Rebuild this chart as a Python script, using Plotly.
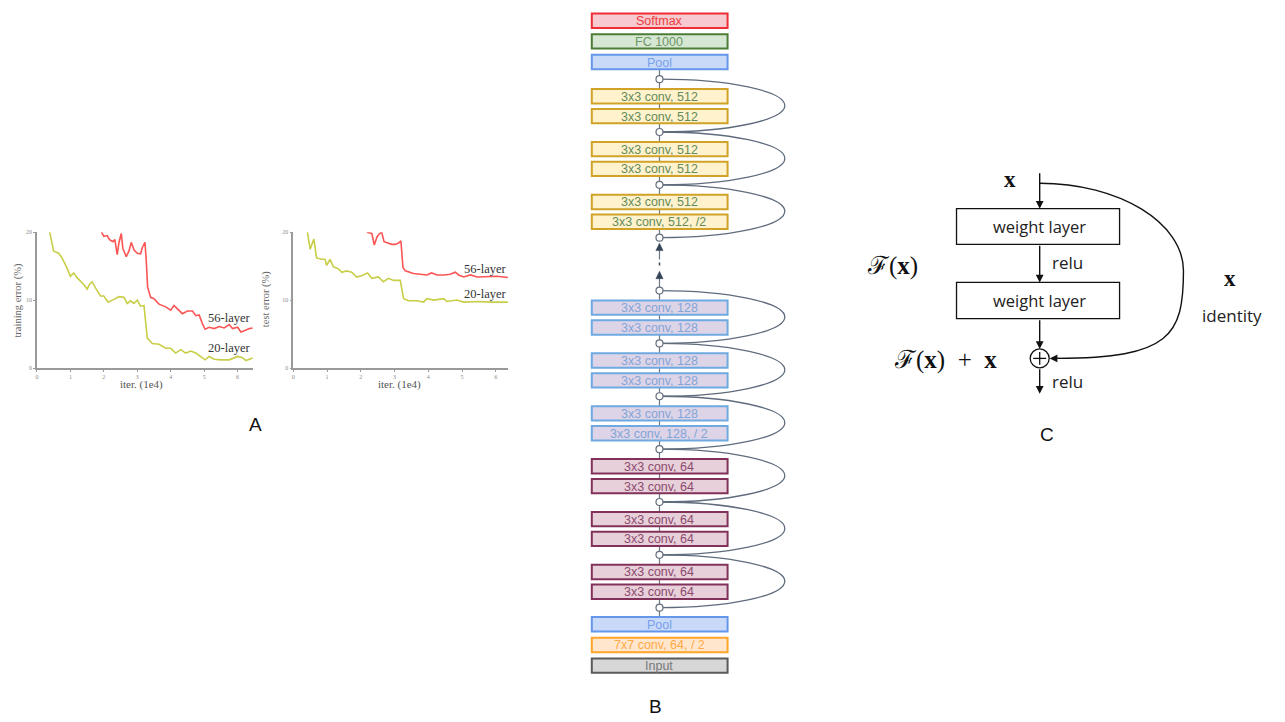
import plotly.graph_objects as go

W, H = 1285, 722
OFF = 8  # page body margin compensation (pixels)

# ---------------- Panel A data ----------------
train56_x = [1.93, 2.0, 2.1, 2.17, 2.27, 2.33, 2.4, 2.45, 2.52, 2.57, 2.67, 2.75, 2.82, 2.9, 3.0, 3.1, 3.15, 3.23, 3.27, 3.31,
             3.4, 3.5, 3.65, 3.85, 4.0, 4.1, 4.2, 4.35, 4.5, 4.65, 4.75, 4.85, 4.95, 5.03, 5.15, 5.3, 5.45, 5.6, 5.75, 5.85,
             6.0, 6.1, 6.2, 6.35, 6.47]
train56_y = [20.0, 19.4, 19.5, 18.9, 18.6, 18.9, 16.7, 18.4, 19.8, 17.6, 16.4, 17.2, 18.5, 17.4, 16.9, 16.8, 17.7, 18.5, 15.7, 11.9,
             10.4, 10.2, 9.4, 9.0, 8.5, 9.2, 8.7, 8.0, 8.4, 8.4, 7.7, 7.8, 6.5, 5.7, 6.0, 5.8, 6.1, 5.9, 6.4, 5.8,
             6.0, 5.3, 5.5, 5.8, 5.9]
train20_x = [0.38, 0.45, 0.5, 0.65, 0.75, 0.9, 1.0, 1.1, 1.2, 1.4, 1.5, 1.57, 1.65, 1.75, 1.9, 2.0, 2.13, 2.3, 2.45, 2.6,
             2.7, 2.8, 2.9, 3.0, 3.1, 3.2, 3.25, 3.3, 3.45, 3.65, 3.85, 4.0, 4.15, 4.3, 4.45, 4.6, 4.75, 4.9, 5.03, 5.15,
             5.3, 5.5, 5.75, 6.0, 6.15, 6.25, 6.47]
train20_y = [20.0, 18.1, 17.2, 16.9, 16.2, 14.7, 13.5, 14.0, 13.3, 12.3, 11.6, 12.3, 12.7, 11.8, 10.6, 10.6, 9.7, 10.1, 10.5, 10.4,
             9.5, 9.9, 9.5, 10.0, 9.1, 9.2, 7.0, 4.4, 3.6, 3.5, 2.9, 2.9, 2.2, 2.7, 2.2, 2.5, 2.2, 1.7, 1.2, 1.7,
             1.3, 1.2, 1.2, 1.7, 1.5, 1.1, 1.5]
test56_x = [2.18, 2.33, 2.4, 2.48, 2.56, 2.62, 2.69, 2.82, 2.92, 3.02, 3.12, 3.19, 3.25, 3.32, 3.56, 3.76, 3.96, 4.1, 4.26, 4.46,
            4.65, 4.8, 4.9, 5.05, 5.25, 5.45, 5.74, 6.04, 6.39]
test56_y = [20.0, 19.8, 18.1, 19.3, 19.8, 20.0, 18.6, 18.4, 18.2, 18.2, 18.4, 18.7, 14.8, 14.3, 13.9, 13.8, 13.7, 14.0, 13.7, 13.7,
            13.8, 14.1, 13.7, 13.4, 13.7, 13.4, 13.4, 13.5, 13.3]
test20_x = [0.42, 0.5, 0.61, 0.69, 0.84, 0.94, 0.99, 1.09, 1.19, 1.34, 1.44, 1.58, 1.73, 1.88, 2.08, 2.2, 2.33, 2.52, 2.67, 2.82,
            2.97, 3.17, 3.27, 3.42, 3.66, 3.86, 3.96, 4.16, 4.46, 4.55, 4.85, 5.05, 5.45, 5.84, 6.39]
test20_y = [20.0, 17.5, 19.0, 16.2, 16.0, 16.0, 15.1, 16.0, 14.9, 14.6, 14.1, 14.3, 14.1, 13.4, 13.7, 14.0, 13.2, 13.4, 12.7, 13.2,
            12.9, 12.9, 10.2, 9.9, 9.9, 9.7, 10.2, 10.0, 10.2, 9.8, 10.0, 9.7, 9.8, 9.7, 9.7]
iter_ticks = [0, 1, 2, 3, 4, 5, 6]
err_ticks = [0, 10, 20]
series_names = ["56-layer", "20-layer"]

# ---------------- Panel B data ----------------
top_layers = ["Softmax", "FC 1000", "Pool"]
top_styles = ["softmax", "fc", "pool"]
stage512 = ["3x3 conv, 512", "3x3 conv, 512", "3x3 conv, 512", "3x3 conv, 512", "3x3 conv, 512", "3x3 conv, 512, /2"]
stage128 = ["3x3 conv, 128", "3x3 conv, 128", "3x3 conv, 128", "3x3 conv, 128", "3x3 conv, 128", "3x3 conv, 128, / 2"]
stage64 = ["3x3 conv, 64", "3x3 conv, 64", "3x3 conv, 64", "3x3 conv, 64", "3x3 conv, 64", "3x3 conv, 64"]
bottom_layers = ["Pool", "7x7 conv, 64, / 2", "Input"]
bottom_styles = ["pool", "conv7", "input"]

# ---------------- Panel C data ----------------
block_layers = ["weight layer", "weight layer"]
relu_labels = ["relu", "relu"]

STYLES = {
    "softmax": dict(fill="rgb(246,202,206)", edge="rgb(238,45,55)", text="rgb(238,60,65)"),
    "fc": dict(fill="rgb(214,232,212)", edge="rgb(75,125,55)", text="rgb(110,150,100)"),
    "pool": dict(fill="rgb(200,218,248)", edge="rgb(100,150,235)", text="rgb(120,160,235)"),
    "c512": dict(fill="rgb(255,242,204)", edge="rgb(208,163,40)", text="rgb(100,140,90)"),
    "c128": dict(fill="rgb(222,212,232)", edge="rgb(110,170,225)", text="rgb(130,165,215)"),
    "c64": dict(fill="rgb(232,208,218)", edge="rgb(130,50,90)", text="rgb(140,75,110)"),
    "conv7": dict(fill="rgb(255,230,205)", edge="rgb(255,165,40)", text="rgb(255,170,70)"),
    "input": dict(fill="rgb(215,215,215)", edge="rgb(90,90,90)", text="rgb(120,120,120)"),
}

fig = go.Figure()
shapes = []
annotations = []

RED = "rgb(252,85,85)"
YEL = "rgb(200,206,72)"
SERIF = "Liberation Serif, DejaVu Serif, serif"
SANS = "Liberation Sans, Arial, sans-serif"
CAL = "Open Sans, Liberation Sans, sans-serif"

# ---------------- Panel A ----------------
fig.add_trace(go.Scatter(x=train56_x, y=train56_y, mode="lines", line=dict(color=RED, width=1.6), xaxis="x", yaxis="y", showlegend=False))
fig.add_trace(go.Scatter(x=train20_x, y=train20_y, mode="lines", line=dict(color=YEL, width=1.6), xaxis="x", yaxis="y", showlegend=False))
fig.add_trace(go.Scatter(x=test56_x, y=test56_y, mode="lines", line=dict(color=RED, width=1.6), xaxis="x2", yaxis="y2", showlegend=False))
fig.add_trace(go.Scatter(x=test20_x, y=test20_y, mode="lines", line=dict(color=YEL, width=1.6), xaxis="x2", yaxis="y2", showlegend=False))

def px_x(p):
    return (p - OFF) / W

def px_y(p):
    return 1 - (p - OFF) / H

axis_common = dict(showgrid=False, zeroline=False, showline=True, linecolor="#9a9a9a", linewidth=1.5,
                   ticks="outside", ticklen=2, tickcolor="#9a9a9a",
                   tickfont=dict(family=SERIF, size=6, color="#8a8a8a"), fixedrange=True)

layout_axes = dict(
    xaxis=dict(domain=[px_x(35), px_x(251)], range=[0, 6.45], tickvals=iter_ticks, anchor="y", **axis_common),
    yaxis=dict(domain=[px_y(368), px_y(231)], range=[0, 20], tickvals=err_ticks, anchor="x", **axis_common),
    xaxis2=dict(domain=[px_x(291.7), px_x(506.7)], range=[0, 6.36], tickvals=iter_ticks, anchor="y2", **axis_common),
    yaxis2=dict(domain=[px_y(368), px_y(231)], range=[0, 20], tickvals=err_ticks, anchor="x2", **axis_common),
    xaxis3=dict(domain=[0, 1], range=[OFF, W + OFF], visible=False, fixedrange=True, anchor="y3"),
    yaxis3=dict(domain=[0, 1], range=[H + OFF, OFF], visible=False, fixedrange=True, anchor="x3"),
)

def ann(x, y, text, size, color="#000", family=SANS, xanchor="center", yanchor="middle", angle=0):
    annotations.append(dict(x=x, y=y, xref="x3", yref="y3", text=text, showarrow=False,
                            font=dict(family=family, size=size, color=color),
                            xanchor=xanchor, yanchor=yanchor, textangle=angle))

ann(140, 385, "iter. (1e4)", 11, "#555", SERIF)
ann(398, 385, "iter. (1e4)", 11, "#555", SERIF)
ann(16, 299, "training error (%)", 10.5, "#666", SERIF, angle=-90)
ann(264, 299, "test error (%)", 10.5, "#666", SERIF, angle=-90)
ann(227, 318, series_names[0], 12.5, "#333", SERIF)
ann(227, 348, series_names[1], 12.5, "#333", SERIF)
ann(484, 268, series_names[0], 12.5, "#333", SERIF)
ann(484, 293, series_names[1], 12.5, "#333", SERIF)
ann(254, 425, "A", 19, "#111")

# ---------------- Panel B ----------------
BX0, BX1 = 590.7, 726.7
CX = 658.5
C0 = 76.7        # first shortcut node
PERIOD = 53.3    # distance between shortcut nodes
BOX_H = 14.5
PITCH_TOP = 20.8
node_y = [C0 + PERIOD * k for k in range(11)]

def box(y0, label, style):
    s = STYLES[style]
    shapes.append(dict(type="rect", xref="x3", yref="y3", x0=BX0, x1=BX1, y0=y0, y1=y0 + BOX_H,
                       fillcolor=s["fill"], line=dict(color=s["edge"], width=2), layer="below"))
    ann(CX, y0 + BOX_H / 2 + 0.5, label, 12.5, s["text"], SANS)

LINE_COL = "rgb(110,120,130)"
pool_top_bottom = node_y[0] - 10
bottom_pool_top = node_y[10] + 9.5
shapes.append(dict(type="line", xref="x3", yref="y3", x0=CX, x1=CX, y0=pool_top_bottom, y1=node_y[3],
                   line=dict(color=LINE_COL, width=1.2), layer="below"))
shapes.append(dict(type="line", xref="x3", yref="y3", x0=CX, x1=CX, y0=node_y[4], y1=bottom_pool_top,
                   line=dict(color=LINE_COL, width=1.2), layer="below"))
shapes.append(dict(type="line", xref="x3", yref="y3", x0=CX, x1=CX, y0=node_y[3] + 10, y1=node_y[3] + 22,
                   line=dict(color=LINE_COL, width=1.2), layer="below"))
shapes.append(dict(type="line", xref="x3", yref="y3", x0=CX, x1=CX, y0=node_y[3] + 25, y1=node_y[3] + 30,
                   line=dict(color="rgb(60,70,85)", width=1.5, dash="dot"), layer="below"))
shapes.append(dict(type="line", xref="x3", yref="y3", x0=CX, x1=CX, y0=node_y[4] - 14, y1=node_y[4],
                   line=dict(color=LINE_COL, width=1.2), layer="below"))
for tip in (node_y[3] + 5.5, node_y[4] - 19.5):
    shapes.append(dict(type="path", xref="x3", yref="y3",
                       path=f"M {CX},{tip} L {CX + 3.6},{tip + 7.5} L {CX - 3.6},{tip + 7.5} Z",
                       fillcolor="rgb(52,68,88)", line=dict(color="rgb(52,68,88)", width=0.5), layer="below"))

A_R = 125.5
K = 0.5523
CURVE_COL = "rgb(95,108,125)"
for k in [0, 1, 2, 4, 5, 6, 7, 8, 9]:
    y1, y2 = node_y[k], node_y[k + 1]
    ym = (y1 + y2) / 2
    b = (y2 - y1) / 2
    path = (f"M {CX},{y1} C {CX + K * A_R},{y1} {CX + A_R},{ym - K * b} {CX + A_R},{ym} "
            f"C {CX + A_R},{ym + K * b} {CX + K * A_R},{y2} {CX},{y2}")
    shapes.append(dict(type="path", xref="x3", yref="y3", path=path,
                       line=dict(color=CURVE_COL, width=1.3), layer="below"))

for i, (lab, st) in enumerate(zip(top_layers, top_styles)):
    y0 = pool_top_bottom - BOX_H - PITCH_TOP * (len(top_layers) - 1 - i)
    box(y0, lab, st)

stages = [(stage512, "c512", [0, 1, 2]), (stage128, "c128", [4, 5, 6]), (stage64, "c64", [7, 8, 9])]
for labels, st, ks in stages:
    for j, k in enumerate(ks):
        box(node_y[k] + 10, labels[2 * j], st)
        box(node_y[k] + 30, labels[2 * j + 1], st)

for i, (lab, st) in enumerate(zip(bottom_layers, bottom_styles)):
    box(bottom_pool_top + PITCH_TOP * i, lab, st)

fig.add_trace(go.Scatter(x=[CX] * len(node_y), y=node_y, mode="markers", xaxis="x3", yaxis="y3",
                         marker=dict(size=7, color="white", line=dict(color="rgb(100,110,125)", width=1.2)),
                         showlegend=False, hoverinfo="skip"))

ann(655, 709, "B", 19, "#111")

# ---------------- Panel C ----------------
CCX = 1039.3
RX0, RX1 = 956, 1119.3
rects = [(207.3, 243.3), (281.7, 318.3)]
for (y0, y1), lab in zip(rects, block_layers):
    shapes.append(dict(type="rect", xref="x3", yref="y3", x0=RX0, x1=RX1, y0=y0, y1=y1,
                       line=dict(color="#111", width=1.3), fillcolor="white"))
    ann(CCX, (y0 + y1) / 2, lab, 16.5, "#222", CAL)

def arrow(x0, y0, x1, y1):
    annotations.append(dict(x=x1, y=y1, ax=x0, ay=y0, xref="x3", yref="y3", axref="x3", ayref="y3",
                            text="", showarrow=True, arrowhead=2, arrowsize=1.1, arrowwidth=1.4,
                            arrowcolor="#111", standoff=0))

PLUS_CY = 358.3
PLUS_R = 9.5
arrow(CCX, 170, CCX, rects[0][0])
arrow(CCX, rects[0][1], CCX, rects[1][0])
arrow(CCX, rects[1][1], CCX, PLUS_CY - PLUS_R)
arrow(CCX, PLUS_CY + PLUS_R, CCX, 394)

shapes.append(dict(type="circle", xref="x3", yref="y3", x0=CCX - PLUS_R, x1=CCX + PLUS_R,
                   y0=PLUS_CY - PLUS_R, y1=PLUS_CY + PLUS_R, line=dict(color="#111", width=1.3)))
shapes.append(dict(type="line", xref="x3", yref="y3", x0=CCX - 6.5, x1=CCX + 6.5, y0=PLUS_CY, y1=PLUS_CY,
                   line=dict(color="#111", width=1.3)))
shapes.append(dict(type="line", xref="x3", yref="y3", x0=CCX, x1=CCX, y0=PLUS_CY - 6.5, y1=PLUS_CY + 6.5,
                   line=dict(color="#111", width=1.3)))
skip_path = (f"M {CCX},181.7 C 1118.5,181.7 1183.3,221.4 1183.3,270 "
             f"C 1183.3,335 1170,{PLUS_CY} {CCX + PLUS_R + 8},{PLUS_CY}")
shapes.append(dict(type="path", xref="x3", yref="y3", path=skip_path, line=dict(color="#111", width=1.4)))
arrow(CCX + PLUS_R + 12, PLUS_CY, CCX + PLUS_R + 0.5, PLUS_CY)

MATH = "Liberation Serif, DejaVu Serif, serif"
SP = "\u2002"
ann(1010, 178, "<b>x</b>", 23, "#111", MATH)
ann(1050, 262, relu_labels[0], 17, "#222", CAL, xanchor="left")
ann(1050, 382, relu_labels[1], 17, "#222", CAL, xanchor="left")
ann(892, 265, "ℱ(<b>x</b>)", 25, "#111", MATH)
ann(945, 360, f"ℱ(<b>x</b>){SP}+{SP}<b>x</b>", 25, "#111", MATH)
ann(1230, 278, "<b>x</b>", 23, "#111", MATH)
ann(1232, 315, "identity", 17, "#222", CAL)
ann(1047, 435, "C", 19, "#111")

fig.update_layout(
    width=W, height=H, autosize=False,
    margin=dict(l=0, r=0, t=0, b=0, pad=0),
    paper_bgcolor="white", plot_bgcolor="rgba(0,0,0,0)",
    showlegend=False,
    shapes=shapes, annotations=annotations,
    **layout_axes,
)

fig.write_html("out.html", config={"displayModeBar": False})
